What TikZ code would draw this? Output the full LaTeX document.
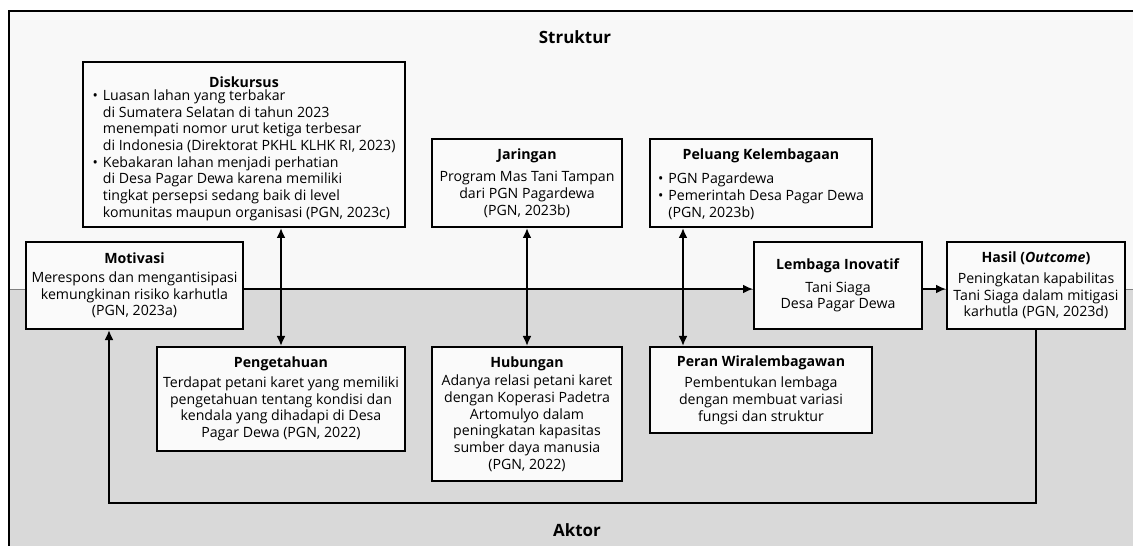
\documentclass[tikz,border=0pt]{standalone}
\usepackage{fontspec}
\setmainfont{Open Sans}
\usetikzlibrary{arrows.meta}
\definecolor{atas}{HTML}{F8F8F8}
\definecolor{bawah}{HTML}{D9D9D9}
\definecolor{isi}{HTML}{FAFAFA}

\begin{document}
\begin{tikzpicture}[x=1bp,y=-1bp,
    kotak/.style={draw,line width=2bp,fill=isi,align=center,inner sep=0pt,
      font=\fontsize{14.2}{16.7}\selectfont},
    judul/.style={font=\bfseries\fontsize{17}{20}\selectfont},
    panah/.style={line width=2bp,-{Latex[length=10bp,width=9bp]}},
    dua/.style={line width=2bp,{Latex[length=10bp,width=9bp]}-{Latex[length=10bp,width=9bp]}}]
  \useasboundingbox (0,0) rectangle (1133,546);
  %latar: struktur di atas, aktor di bawah
  \fill[white] (0,0) rectangle (1133,546);
  \fill[atas] (9,11) rectangle (1133,289);
  \fill[bawah] (9,289) rectangle (1133,546);
  \draw[gray,line width=0.6bp] (9,289) -- (1133,289);
  \draw[line width=1.6bp] (9,546) -- (9,11) -- (1133,11);
  \node[judul] (struktur) at (575,37) {Struktur};
  \node[judul] (aktor) at (577,530) {Aktor};
  %kotak struktur
  \node[kotak,minimum width=322bp,minimum height=165bp] (disk) at (244,144.5)
    {\rule{0pt}{21bp}\textbf{Diskursus}\\[0bp]
     \begin{tabular}{@{}l@{\hspace{5bp}}l@{}}
     \textbullet & Luasan lahan yang terbakar\\
      & di Sumatera Selatan di tahun 2023\\
      & menempati nomor urut ketiga terbesar\\
      & di Indonesia (Direktorat PKHL KLHK RI, 2023)\\
     \textbullet & Kebakaran lahan menjadi perhatian\\
      & di Desa Pagar Dewa karena memiliki\\
      & tingkat persepsi sedang baik di level\\
      & komunitas maupun organisasi (PGN, 2023c)
     \end{tabular}};
  \node[kotak,minimum width=190bp,minimum height=88bp] (jar) at (527,183)
    {\textbf{Jaringan}\\[6bp] Program Mas Tani Tampan\\ dari PGN Pagardewa\\ (PGN, 2023b)};
  \node[kotak,minimum width=222bp,minimum height=88bp] (pel) at (761,183)
    {\rule{0pt}{16bp}\textbf{Peluang Kelembagaan}\\[8bp]
     \begin{tabular}{@{}l@{\hspace{5bp}}l@{}}
     \textbullet & PGN Pagardewa\\
     \textbullet & Pemerintah Desa Pagar Dewa\\
      & (PGN, 2023b)
     \end{tabular}};
  %kotak tengah
  \node[kotak,minimum width=217bp,minimum height=87bp] (mot) at (134.5,285.5)
    {\textbf{Motivasi}\\[2bp] Merespons dan mengantisipasi\\ kemungkinan risiko karhutla\\ (PGN, 2023a)};
  \node[kotak,minimum width=168bp,minimum height=87bp] (lem) at (838,285.5)
    {\textbf{Lembaga Inovatif}\\[6bp] Tani Siaga\\ Desa Pagar Dewa};
  \node[kotak,minimum width=178bp,minimum height=87bp] (has) at (1036,285.5)
    {\textbf{Hasil (\textit{Outcome})}\\[4bp] Peningkatan kapabilitas\\ Tani Siaga dalam mitigasi\\ karhutla (PGN, 2023d)};
  %kotak aktor
  \node[kotak,minimum width=248bp,minimum height=104bp] (peng) at (281,399)
    {\textbf{Pengetahuan}\\[3bp] Terdapat petani karet yang memiliki\\ pengetahuan tentang kondisi dan\\ kendala yang dihadapi di Desa\\ Pagar Dewa (PGN, 2022)};
  \node[kotak,minimum width=190bp,minimum height=134bp] (hub) at (527,414)
    {\textbf{Hubungan}\\[2bp] Adanya relasi petani karet\\ dengan Koperasi Padetra\\ Artomulyo dalam\\ peningkatan kapasitas\\ sumber daya manusia\\ (PGN, 2022)};
  \node[kotak,minimum width=222bp,minimum height=86bp] (per) at (761,390)
    {\textbf{Peran Wiralembagawan}\\[5bp] Pembentukan lembaga\\ dengan membuat variasi\\ fungsi dan struktur};
  %panah
  \draw[dua] (peng.north) -- (peng.north |- disk.south);
  \draw[dua] (hub.north) -- (jar.south);
  \draw[dua] ([xshift=34bp]per.north west) -- ([xshift=34bp]pel.south west);
  \draw[panah] ([yshift=-3.5bp]mot.east) -- ([yshift=-3.5bp]lem.west);
  \draw[panah] ([yshift=-3.5bp]lem.east) -- ([yshift=-3.5bp]has.west);
  \coordinate (bawahkiri) at ([xshift=-25.5bp]mot.south);
  \coordinate (garis) at (0,503);
  \draw[panah] (has.south) -- (has.south |- garis) -| (bawahkiri);
\end{tikzpicture}
\end{document}
